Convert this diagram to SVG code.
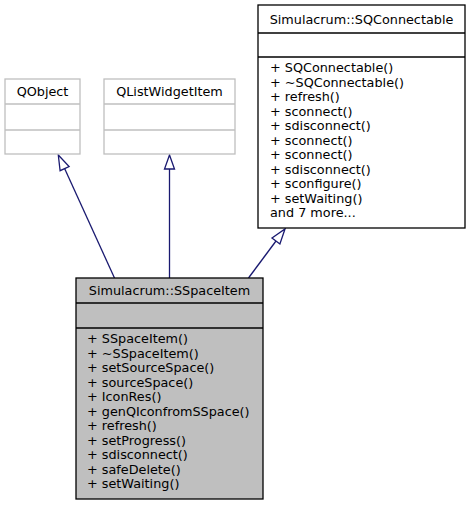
<svg xmlns="http://www.w3.org/2000/svg" width="471" height="507" viewBox="0 0 471 507">
<style>
text{font-family:"DejaVu Sans",sans-serif;font-size:12.8px;fill:#000}
.c{text-anchor:middle}
.ext{fill:#fff;stroke:#bfbfbf;stroke-width:1.3}
.box{fill:#fff;stroke:#000;stroke-width:1.3}
.main{fill:#bfbfbf;stroke:#000;stroke-width:1.3}
.edge{stroke:#191970;stroke-width:1.3;fill:none}
.head{stroke:#191970;stroke-width:1.3;fill:#fff}
</style>
<rect width="471" height="507" fill="#fff"/>
<g id="connectors">
<path class="edge" d="M114.5,278 L64.6,168.6"/>
<polygon class="head" points="58.3,155 69.1,166.5 60.1,170.7"/>
<path class="edge" d="M169.5,278 L169.5,169"/>
<polygon class="head" points="169.5,155 164.5,169 174.5,169"/>
<path class="edge" d="M248.5,278 L276,241"/>
<polygon class="head" points="285,229 279.9,244 272,238"/>
</g>
<g id="QObject">
<rect class="ext" x="5" y="79" width="75" height="75"/>
<line class="ext" x1="5" y1="104" x2="80" y2="104"/>
<line class="ext" x1="5" y1="130" x2="80" y2="130"/>
<text class="c" x="42.5" y="96">QObject</text>
</g>
<g id="QListWidgetItem">
<rect class="ext" x="104" y="79" width="131" height="75"/>
<line class="ext" x1="104" y1="104" x2="235" y2="104"/>
<line class="ext" x1="104" y1="130" x2="235" y2="130"/>
<text class="c" x="169.5" y="96">QListWidgetItem</text>
</g>
<g id="SQConnectable">
<rect class="box" x="258" y="5" width="207" height="223"/>
<line class="box" x1="258" y1="33" x2="465" y2="33"/>
<line class="box" x1="258" y1="57" x2="465" y2="57"/>
<text class="c" x="361.5" y="23.5">Simulacrum::SQConnectable</text>
<text x="270" y="72">+ SQConnectable()</text>
<text x="270" y="86.5">+ ~SQConnectable()</text>
<text x="270" y="101">+ refresh()</text>
<text x="270" y="115.5">+ sconnect()</text>
<text x="270" y="130">+ sdisconnect()</text>
<text x="270" y="144.5">+ sconnect()</text>
<text x="270" y="159">+ sconnect()</text>
<text x="270" y="173.5">+ sdisconnect()</text>
<text x="270" y="188">+ sconfigure()</text>
<text x="270" y="202.5">+ setWaiting()</text>
<text x="270" y="217">and 7 more...</text>
</g>
<g id="SSpaceItem">
<rect class="main" x="76" y="278" width="187" height="221"/>
<line class="main" x1="76" y1="303" x2="263" y2="303"/>
<line class="main" x1="76" y1="328" x2="263" y2="328"/>
<text class="c" x="169.5" y="295">Simulacrum::SSpaceItem</text>
<text x="87" y="343">+ SSpaceItem()</text>
<text x="87" y="357.5">+ ~SSpaceItem()</text>
<text x="87" y="372">+ setSourceSpace()</text>
<text x="87" y="386.5">+ sourceSpace()</text>
<text x="87" y="401">+ IconRes()</text>
<text x="87" y="415.5">+ genQIconfromSSpace()</text>
<text x="87" y="430">+ refresh()</text>
<text x="87" y="444.5">+ setProgress()</text>
<text x="87" y="459">+ sdisconnect()</text>
<text x="87" y="473.5">+ safeDelete()</text>
<text x="87" y="488">+ setWaiting()</text>
</g>
</svg>
